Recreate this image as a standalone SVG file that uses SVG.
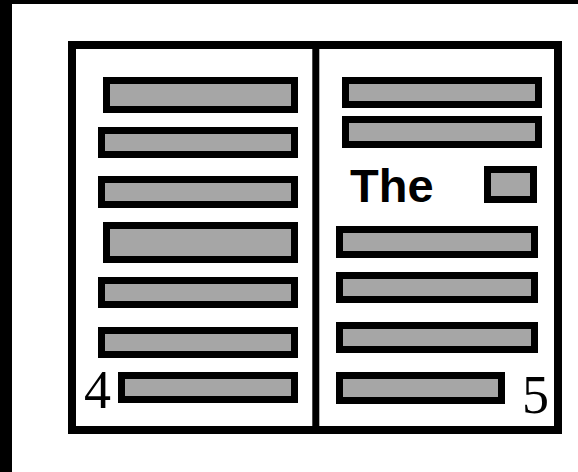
<svg xmlns="http://www.w3.org/2000/svg" width="578" height="472" viewBox="0 0 578 472">
<style>
.bar{fill:#a6a6a6;stroke:#000;stroke-width:7}
.num{font-family:"Liberation Serif",serif;font-size:54px;fill:#000}
</style>
<rect x="0" y="0" width="578" height="472" fill="#fff"/>
<rect x="0" y="0" width="578" height="4" fill="#000"/>
<rect x="0" y="0" width="12" height="472" fill="#000"/>
<g id="page">
<rect x="72" y="45" width="486" height="385" fill="#fff" stroke="#000" stroke-width="8"/>
<line x1="315.8" y1="45" x2="315.8" y2="430" stroke="#000" stroke-width="7"/>
</g>
<g id="left-page">
<rect class="bar" x="106.5" y="80.5" width="188" height="29"/>
<rect class="bar" x="101.5" y="130.5" width="193" height="24"/>
<rect class="bar" x="101.5" y="179.5" width="193" height="25"/>
<rect class="bar" x="106.5" y="225.5" width="188" height="34"/>
<rect class="bar" x="101.5" y="280.5" width="193" height="24"/>
<rect class="bar" x="101.5" y="330.5" width="193" height="24"/>
<rect class="bar" x="121.5" y="375.5" width="173" height="24"/>
<text class="num" x="84" y="408">4</text>
</g>
<g id="right-page">
<rect class="bar" x="345.5" y="80.5" width="193" height="24"/>
<rect class="bar" x="345.5" y="119.5" width="193" height="25"/>
<text x="350" y="202" font-family="'Liberation Sans',Arial,sans-serif" font-weight="bold" font-size="47" fill="#000">The</text>
<rect class="bar" x="487.5" y="169.5" width="46" height="30"/>
<rect class="bar" x="339.5" y="229.5" width="195" height="25"/>
<rect class="bar" x="339.5" y="275.5" width="195" height="24"/>
<rect class="bar" x="339.5" y="325.5" width="195" height="24"/>
<rect class="bar" x="339.5" y="375.5" width="162" height="25"/>
<text class="num" x="522" y="413">5</text>
</g>
</svg>
